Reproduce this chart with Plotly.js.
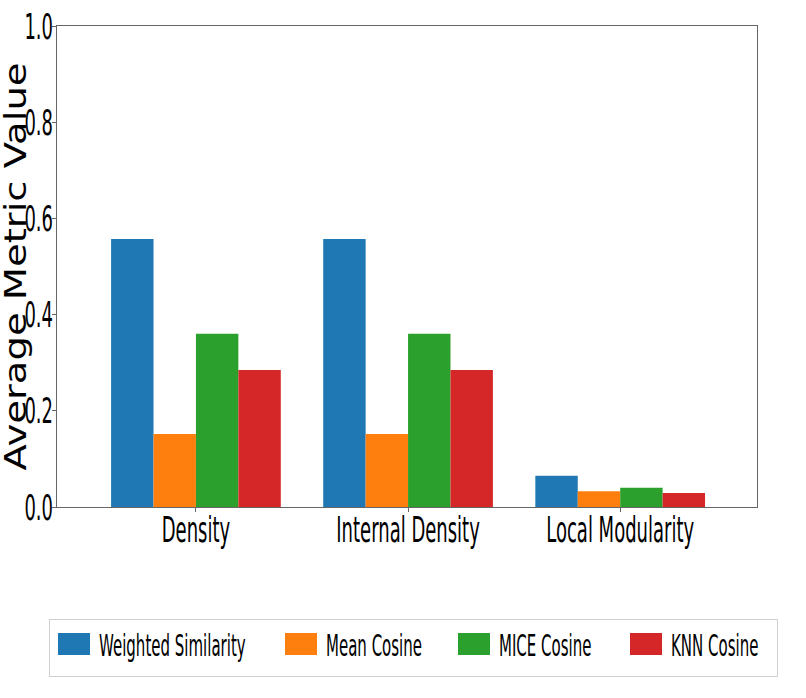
<!DOCTYPE html>
<html>
<head>
<meta charset="utf-8">
<script src="https://cdn.plot.ly/plotly-3.0.1.min.js"></script>
<style>
html,body{margin:0;padding:0;background:#fff;}
#chart{width:806px;height:698px;}
</style>
</head>
<body>
<div id="chart"></div>
<script>
const categories = ['Density', 'Internal Density', 'Local Modularity'];
const seriesNames = ['Weighted Similarity', 'Mean Cosine', 'MICE Cosine', 'KNN Cosine'];
const weightedSimilarity = [0.557, 0.557, 0.065];
const meanCosine = [0.152, 0.152, 0.033];
const miceCosine = [0.360, 0.360, 0.040];
const knnCosine = [0.285, 0.285, 0.029];
const colors = ['#1f77b4', '#ff7f0e', '#2ca02c', '#d62728'];
const yTickVals = [0, 0.2, 0.4, 0.6, 0.8, 1.0];
const yTickText = ['0.0', '0.2', '0.4', '0.6', '0.8', '1.0'];

const seriesValues = [weightedSimilarity, meanCosine, miceCosine, knnCosine];
const baseFont = 'DejaVu Sans, sans-serif';

const data = seriesValues.map((vals, i) => ({
  type: 'bar',
  name: seriesNames[i],
  x: categories,
  y: vals,
  marker: {color: colors[i], line: {width: 0}},
  hoverinfo: 'x+y+name'
}));

const layout = {
  width: 806,
  height: 698,
  margin: {l: 57, r: 49, t: 26, b: 191, autoexpand: false},
  paper_bgcolor: '#ffffff',
  plot_bgcolor: '#ffffff',
  barmode: 'group',
  bargap: 0.2,
  bargroupgap: 0,
  showlegend: true,
  font: {family: baseFont, color: '#000000', size: 36},
  xaxis: {
    type: 'category',
    range: [-0.655, 2.645],
    tickangle: 0,
    automargin: false,
    showline: true, mirror: true, linecolor: '#666666', linewidth: 1,
    ticks: 'outside', ticklen: 4, tickcolor: '#666666',
    showgrid: false, zeroline: false,
    tickfont: {family: baseFont, size: 36, color: '#000000'}
  },
  yaxis: {
    range: [0, 1.0],
    tickvals: yTickVals,
    ticktext: yTickText,
    automargin: false,
    showline: true, mirror: true, linecolor: '#666666', linewidth: 1,
    ticks: 'outside', ticklen: 4, tickcolor: '#666666',
    showgrid: false, zeroline: false,
    tickfont: {family: baseFont, size: 36, color: '#000000'}
  },
  annotations: [{
    text: 'Average Metric Value',
    xref: 'paper', yref: 'paper',
    x: -0.0586, y: 0.5,
    xanchor: 'center', yanchor: 'middle',
    textangle: -90,
    showarrow: false,
    font: {family: baseFont, size: 30, color: '#000000'}
  }],
  legend: {
    orientation: 'h',
    xref: 'container', yref: 'container',
    x: 0.5124, xanchor: 'center',
    y: 0.1132, yanchor: 'top',
    bordercolor: '#d0d0d0', borderwidth: 1,
    bgcolor: '#ffffff',
    font: {family: baseFont, size: 30, color: '#000000'},
    itemwidth: 40,
    entrywidth: 110,
    entrywidthmode: 'pixels'
  }
};

// compress text horizontally while keeping its anchor point ('start' | 'middle' | 'end')
function squeeze(selector, factor, anchor, fixedLength) {
  document.querySelectorAll(selector).forEach(t => {
    const L = t.getComputedTextLength();
    if (!(L > 0)) return;
    const b0 = t.getBBox();
    t.setAttribute('lengthAdjust', 'spacingAndGlyphs');
    t.setAttribute('textLength', (fixedLength ? fixedLength : L * factor).toFixed(1));
    const b1 = t.getBBox();
    let dx = 0;
    if (anchor === 'end') dx = (b0.x + b0.width) - (b1.x + b1.width);
    else if (anchor === 'middle') dx = (b0.x + b0.width / 2) - (b1.x + b1.width / 2);
    else dx = b0.x - b1.x;
    const x0 = parseFloat(t.getAttribute('x') || '0');
    t.setAttribute('x', (x0 + dx).toFixed(2));
  });
}

function parseTranslate(el) {
  const m = /translate\(\s*([-\d.e]+)[\s,]+([-\d.e]+)\s*\)/.exec(el.getAttribute('transform') || '');
  return m ? [parseFloat(m[1]), parseFloat(m[2])] : [0, 0];
}

Plotly.newPlot('chart', data, layout, {displayModeBar: false, staticPlot: true}).then(() => {
  squeeze('#chart .xtick text', 0.50, 'middle');
  squeeze('#chart .ytick text', 0.50, 'end');
  squeeze('#chart .legendtext', 0.50, 'start');
  squeeze('#chart .annotation-text', 1, 'middle', 408);

  // x tick labels slightly closer to the axis
  document.querySelectorAll('#chart .xtick text').forEach(t => {
    const y0 = parseFloat(t.getAttribute('y') || '0');
    t.setAttribute('y', (y0 - 13).toFixed(2));
  });
  // y tick labels: right edge near the axis
  document.querySelectorAll('#chart .ytick text').forEach(t => {
    const r = t.getBoundingClientRect().right;
    const x0 = parseFloat(t.getAttribute('x') || '0');
    t.setAttribute('x', (x0 + (53 - r)).toFixed(2));
  });

  // legend: bigger swatches, matplotlib-like spacing and frame
  document.querySelectorAll('#chart .legendpoints path').forEach(p => {
    p.setAttribute('d', 'M-16,-11H16V11H-16Z');
  });
  const legend = document.querySelector('#chart g.legend');
  if (legend) {
    const scrollbox = legend.querySelector('g.scrollbox');
    if (scrollbox) scrollbox.removeAttribute('clip-path');
    const bg = legend.querySelector('rect.bg');
    const [lx, ly] = parseTranslate(legend);
    const bgLeft = bg.getBoundingClientRect().left;
    legend.setAttribute('transform', `translate(${lx + (49 - bgLeft)},${ly})`);
    bg.setAttribute('width', 728);
    bg.setAttribute('height', 57);
    const traces = Array.from(legend.querySelectorAll('g.traces'));
    const swatchOffsets = [0, 227, 400, 572];
    if (traces.length) {
      const base = parseTranslate(traces[0]);
      traces.forEach((g, i) => {
        const [, ty] = parseTranslate(g);
        g.setAttribute('transform', `translate(${base[0] + swatchOffsets[i]},${ty})`);
      });
      const sw = traces[0].querySelector('.legendpoints path');
      const sb = sw.getBoundingClientRect();
      const shiftX = 58 - sb.left;
      const midY = (sb.top + sb.bottom) / 2;
      const shiftY = 644 - midY;
      traces.forEach(g => {
        const [tx, ty] = parseTranslate(g);
        g.setAttribute('transform', `translate(${tx + shiftX},${ty + shiftY})`);
      });
    }
  }
});
</script>
</body>
</html>
